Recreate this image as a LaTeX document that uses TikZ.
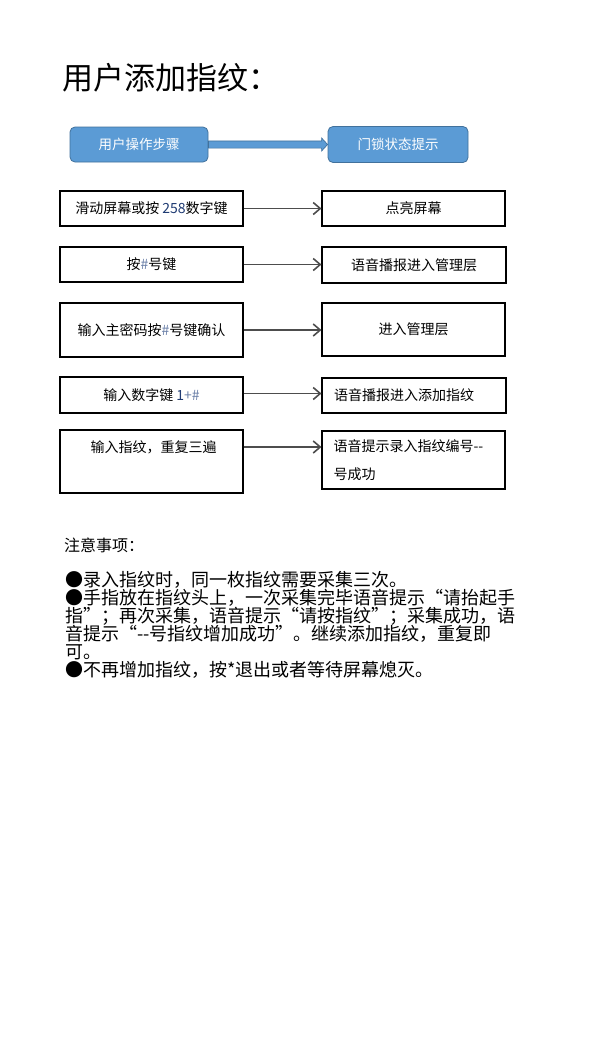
\documentclass[tikz,border=0pt]{standalone}
\usepackage{fontspec}
\setmainfont{Noto Sans CJK SC}
\newfontfamily\cjkfw[RawFeature={+fwid}]{Noto Sans CJK SC}
\usetikzlibrary{arrows.meta,calc}
\definecolor{hblue}{HTML}{5B9BD5}
\definecolor{hdark}{HTML}{41719C}
\definecolor{arrgray}{HTML}{4D4D4D}
\definecolor{numblue}{HTML}{1F3B73}
\definecolor{hashblue}{HTML}{6A7FA8}
\newcommand\myoq{{\cjkfw “}}
\newcommand\mycq{{\cjkfw ”}}
\tikzset{
  hdr/.style={rectangle, rounded corners=5pt, fill=hblue, draw=hdark, line width=0.8pt,
    text=white, font=\fontsize{13.5}{16}\selectfont, minimum width=138pt, minimum height=35pt, inner sep=0pt},
  stepbox/.style={rectangle, draw=black, line width=1.1pt, minimum width=183pt, inner sep=0pt,
    font=\fontsize{14}{17}\selectfont},
  steptext/.style={inner sep=0pt, font=\fontsize{14}{17}\selectfont},
  arr/.style={draw=arrgray, line width=1.6pt, -{Straight Barb[length=7pt,width=12pt]}},
  noteline/.style={anchor=base west, inner sep=0pt, font=\fontsize{18}{18}\selectfont}
}
\begin{document}
\begin{tikzpicture}[x=1pt,y=-1pt]
\useasboundingbox[fill=white] (0,0) rectangle (602,1045);

% title
\node[anchor=base west, inner sep=0pt, font=\fontsize{31}{31}\selectfont] (title) at (62,89.5) {用户添加指纹：};

% header
\node[hdr] (h1) at (139,144.5) {用户操作步骤};
\node[hdr, minimum width=140pt, minimum height=36pt] (h2) at (398,144.5) {门锁状态提示};
\filldraw[fill=hblue, draw=hdark, line width=0.7pt]
  ($(h1.east)+(0,-3.6)$) -- ($(h2.west)+(-6,-3.6)$) -- ($(h2.west)+(-6,-6.5)$) -- (h2.west)
  -- ($(h2.west)+(-6,6.5)$) -- ($(h2.west)+(-6,3.6)$) -- ($(h1.east)+(0,3.6)$) -- cycle;

% steps
\node[stepbox, minimum height=35pt] (l1) at (151.5,208.5) {滑动屏幕或按 {\color{numblue}258}数字键};
\node[stepbox, minimum height=35pt] (r1) at (413.5,208.5) {点亮屏幕};
\node[stepbox, minimum height=35pt] (l2) at (151.5,264.5) {按{\color{hashblue}\#}号键};
\node[stepbox, minimum width=184pt, minimum height=36pt] (r2) at (414,265) {语音播报进入管理层};
\node[stepbox, minimum height=54pt] (l3) at (151.5,330) {输入主密码按{\color{hashblue}\#}号键确认};
\node[stepbox, minimum height=53pt] (r3) at (413.5,329.5) {进入管理层};
\node[stepbox, minimum height=36pt] (l4) at (151.5,395) {输入数字键 {\color{numblue}1}{\color{hashblue}+\#}};
\node[stepbox, minimum width=184pt, minimum height=35pt, text width=160pt, align=left] (r4) at (414,395.5) {语音播报进入添加指纹};
\node[stepbox, minimum height=63pt] (l5) at (151.5,461.5) {};
\node[steptext] (l5t) at ($(l5.north)+(2,17.5)$) {输入指纹，重复三遍};
\node[stepbox, minimum height=58pt, text width=160pt, align=left, font=\fontsize{14}{28}\selectfont] (r5) at (413.5,460) {语音提示录入指纹编号-{}-\\号成功};

% arrows
\draw[arr] (l1.east) -- (l1.east -| r1.west);
\draw[arr] (l2.east) -- (l2.east -| r2.west);
\draw[arr] (l3.east) -- (l3.east -| r3.west);
\draw[arr] ($(l4.east)+(0,-1.5)$) coordinate (a4) -- (a4 -| r4.west);
\coordinate (a5) at ($(l5.east)+(0,-14.5)$);
\draw[arr] (a5) -- (a5 -| r5.west);

% notes
\node[anchor=base west, inner sep=0pt, font=\fontsize{16}{16}\selectfont] (nh) at (64,551) {注意事项：};
\node[noteline] (n1) at (65,586) {●录入指纹时，同一枚指纹需要采集三次。};
\node[noteline] (n2) at (65,604) {●手指放在指纹头上，一次采集完毕语音提示\myoq{}请抬起手};
\node[noteline] (n3) at (65,622) {指\mycq{}；再次采集，语音提示\myoq{}请按指纹\mycq{}；采集成功，语};
\node[noteline] (n4) at (65,640) {音提示\myoq{}-{}-号指纹增加成功\mycq{}。继续添加指纹，重复即};
\node[noteline] (n5) at (65,658) {可。};
\node[noteline] (n6) at (65,676) {●不再增加指纹，按*退出或者等待屏幕熄灭。};
\end{tikzpicture}
\end{document}
